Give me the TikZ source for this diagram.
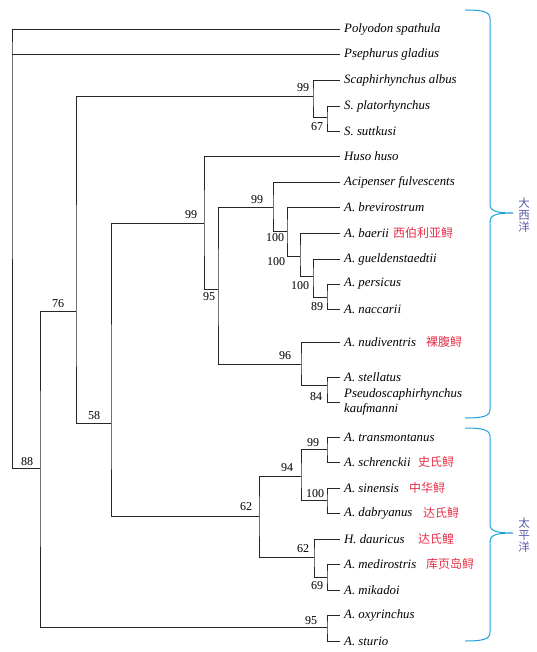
\documentclass[tikz,border=0pt]{standalone}
\usepackage{fontspec}
\setmainfont{Liberation Serif}
\newfontfamily\cjk{Noto Sans CJK SC}
\definecolor{cnred}{RGB}{228,48,72}
\definecolor{bracecol}{RGB}{30,160,220}
\definecolor{oceancol}{RGB}{90,90,170}
\begin{document}
\begin{tikzpicture}[x=1pt,y=-1pt,
  br/.style={draw=black!85,line width=0.8pt},
  leaf/.style={anchor=west,inner xsep=4pt,inner ysep=1pt,font=\fontsize{12.8}{15}\selectfont\itshape},
  bs/.style={inner sep=0pt,font=\fontsize{12}{13}\selectfont},
  cn/.style={anchor=west,inner sep=0pt,text=cnred,font=\fontsize{12}{14}\selectfont\cjk},
  ocean/.style={inner sep=0pt,text=oceancol,align=center,font=\fontsize{11.5}{12}\selectfont\cjk},
  brace/.style={draw=bracecol,line width=1pt}]
\useasboundingbox (0,0) rectangle (537,652);

% leaves
\node[leaf] (polyodon) at (340,29) {Polyodon spathula};
\node[leaf] (psephurus) at (340,54) {Psephurus gladius};
\node[leaf] (albus) at (340,80) {Scaphirhynchus albus};
\node[leaf] (platorh) at (340,106) {S. platorhynchus};
\node[leaf] (suttkusi) at (340,131) {S. suttkusi};
\node[leaf] (huso) at (340,156) {Huso huso};
\node[leaf] (fulvesc) at (340,182) {Acipenser fulvescents};
\node[leaf] (brevir) at (340,207) {A. brevirostrum};
\node[leaf] (baerii) at (340,233) {A. baerii};
\node[leaf] (gueld) at (340,259) {A. gueldenstaedtii};
\node[leaf] (persicus) at (340,284) {A. persicus};
\node[leaf] (naccarii) at (340,309) {A. naccarii};
\node[leaf] (nudiv) at (340,342) {A. nudiventris};
\node[leaf] (stellatus) at (340,377) {A. stellatus};
\node[leaf,align=left] (kaufm) at (340,402) {Pseudoscaphirhynchus\\kaufmanni};
\node[leaf] (transm) at (340,437) {A. transmontanus};
\node[leaf] (schrenckii) at (340,462) {A. schrenckii};
\node[leaf] (sinensis) at (340,488) {A. sinensis};
\node[leaf] (dabryanus) at (340,513) {A. dabryanus};
\node[leaf] (dauricus) at (340,539) {H. dauricus};
\node[leaf] (medirostris) at (340,564) {A. medirostris};
\node[leaf] (mikadoi) at (340,590) {A. mikadoi};
\node[leaf] (oxyr) at (340,615) {A. oxyrinchus};
\node[leaf] (sturio) at (340,641) {A. sturio};

% internal nodes
\coordinate (root) at (12,54);
\coordinate (n88) at (40,468);
\coordinate (n76) at (76,311);
\coordinate (n58) at (111,423);
\coordinate (n99a) at (313,96);
\coordinate (n67) at (327,117);
\coordinate (n99b) at (204,223);
\coordinate (n95) at (218,289);
\coordinate (n99c) at (273,207);
\coordinate (n100a) at (287,231);
\coordinate (n100b) at (300,256);
\coordinate (n100c) at (313,276);
\coordinate (n89) at (327,297);
\coordinate (n96) at (301,364);
\coordinate (n84) at (327,385);
\coordinate (n62) at (259,516);
\coordinate (n94) at (301,476);
\coordinate (n99d) at (327,449);
\coordinate (n100d) at (327,500);
\coordinate (n62b) at (314,557);
\coordinate (n69) at (327,577);
\coordinate (n95b) at (327,627);

% branches
\draw[br] (polyodon.west) -| (root) |- (n88);
\draw[br] (root) -- (psephurus.west);
\draw[br] (n76) -| (n88) |- (n95b);
\draw[br] (oxyr.west) -| (n95b) |- (sturio.west);
\draw[br] (n99a) -| (n76) |- (n58);
\draw[br] (albus.west) -| (n99a) |- (n67);
\draw[br] (platorh.west) -| (n67) |- (suttkusi.west);
\draw[br] (n99b) -| (n58) |- (n62);
\draw[br] (huso.west) -| (n99b) |- (n95);
\draw[br] (n99c) -| (n95) |- (n96);
\draw[br] (fulvesc.west) -| (n99c) |- (n100a);
\draw[br] (brevir.west) -| (n100a) |- (n100b);
\draw[br] (baerii.west) -| (n100b) |- (n100c);
\draw[br] (gueld.west) -| (n100c) |- (n89);
\draw[br] (persicus.west) -| (n89) |- (naccarii.west);
\draw[br] (nudiv.west) -| (n96) |- (n84);
\draw[br] (stellatus.west) -| (n84) |- (kaufm.west);
\draw[br] (n94) -| (n62) |- (n62b);
\draw[br] (n99d) -| (n94) |- (n100d);
\draw[br] (transm.west) -| (n99d) |- (schrenckii.west);
\draw[br] (sinensis.west) -| (n100d) |- (dabryanus.west);
\draw[br] (dauricus.west) -| (n62b) |- (n69);
\draw[br] (medirostris.west) -| (n69) |- (mikadoi.west);

% bootstrap values
\node[bs] (b88) at (27,462) {88};
\node[bs] (b76) at (58,304) {76};
\node[bs] (b58) at (94,416) {58};
\node[bs] (b99b) at (191,215) {99};
\node[bs] (b95) at (209,297) {95};
\node[bs] (b99c) at (257,200) {99};
\node[bs] (b100a) at (275,238) {100};
\node[bs] (b100b) at (276,262) {100};
\node[bs] (b100c) at (300,286) {100};
\node[bs] (b89) at (317,307) {89};
\node[bs] (b96) at (285,356) {96};
\node[bs] (b84) at (316,397) {84};
\node[bs] (b99a) at (303,88) {99};
\node[bs] (b67) at (317,127) {67};
\node[bs] (b62) at (246,507) {62};
\node[bs] (b94) at (287,468) {94};
\node[bs] (b99d) at (313,443) {99};
\node[bs] (b100d) at (315,494) {100};
\node[bs] (b62b) at (303,549) {62};
\node[bs] (b69) at (317,586) {69};
\node[bs] (b95b) at (311,621) {95};

% Chinese names
\node[cn] (c1) at (393,233) {西伯利亚鲟};
\node[cn] (c2) at (426,342) {裸腹鲟};
\node[cn] (c3) at (418,462) {史氏鲟};
\node[cn] (c4) at (409,488) {中华鲟};
\node[cn] (c5) at (423,513) {达氏鲟};
\node[cn] (c6) at (418,539) {达氏鳇};
\node[cn] (c7) at (426,564) {库页岛鲟};

% braces
\draw[brace] (465,10) .. controls (484,10) and (490,12) .. (490,19) -- (490,204)
  .. controls (490,211) and (496,213) .. (513,213)
  .. controls (496,213) and (490,215) .. (490,222) -- (490,409)
  .. controls (490,416) and (484,418) .. (465,418);
\draw[brace] (465,428) .. controls (484,428) and (490,430) .. (490,437) -- (490,524)
  .. controls (490,531) and (496,533) .. (513,533)
  .. controls (496,533) and (490,535) .. (490,542) -- (490,632)
  .. controls (490,639) and (484,641) .. (465,641);
\node[ocean] (atl) at (524,215) {大\\西\\洋};
\node[ocean] (pac) at (524,535) {太\\平\\洋};
\end{tikzpicture}
\end{document}
